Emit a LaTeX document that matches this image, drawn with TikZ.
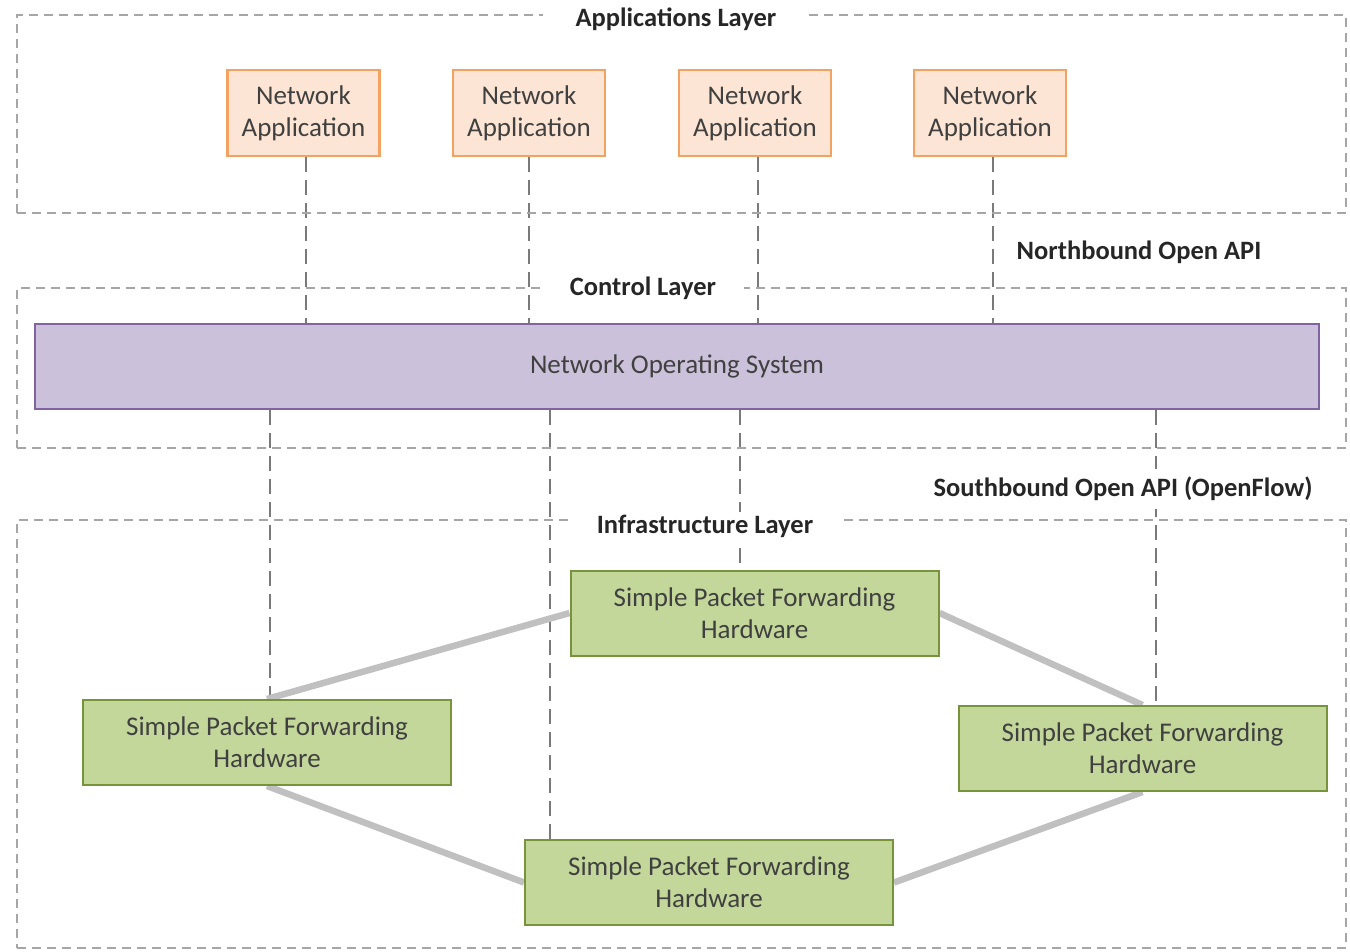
\documentclass[tikz,border=0pt]{standalone}
\usepackage{fontspec}
\setmainfont{Carlito}
\usetikzlibrary{backgrounds}
\definecolor{appfill}{HTML}{FCE5D4}
\definecolor{appdraw}{HTML}{F4A261}
\definecolor{nosfill}{HTML}{CCC1DA}
\definecolor{nosdraw}{HTML}{8064A2}
\definecolor{hwfill}{HTML}{C4D79B}
\definecolor{hwdraw}{HTML}{77933C}
\definecolor{linkgray}{HTML}{C0C0C0}
\definecolor{layergray}{HTML}{A6A6A6}
\definecolor{ctlgray}{HTML}{7A7A7A}
\definecolor{txt}{HTML}{404040}
\definecolor{ttl}{HTML}{262626}
\begin{document}
\begin{tikzpicture}[x=1pt,y=-1pt,
  layerbox/.style={draw=layergray, line width=1.5pt, dash pattern=on 9pt off 6pt, inner sep=0pt, outer sep=0pt},
  ltitle/.style={fill=white, text=ttl, font=\bfseries\fontsize{26.5}{30}\selectfont, inner xsep=28pt, inner ysep=3pt},
  apilabel/.style={text=ttl, font=\bfseries\fontsize{26.5}{30}\selectfont},
  appbox/.style={draw=appdraw, fill=appfill, line width=2.5pt, minimum width=152pt, minimum height=86pt, align=center, text=txt, font=\fontsize{27}{32}\selectfont, inner sep=0pt},
  nosbox/.style={draw=nosdraw, fill=nosfill, line width=2pt, minimum width=1284pt, minimum height=85pt, text=txt, font=\fontsize{27}{32}\selectfont, inner sep=0pt},
  hwbox/.style={draw=hwdraw, fill=hwfill, line width=2pt, minimum width=368pt, minimum height=85pt, align=center, text=txt, font=\fontsize{27}{32}\selectfont, inner sep=0pt},
  ctl/.style={draw=ctlgray, line width=2pt, dash pattern=on 15pt off 8pt},
  link/.style={draw=linkgray, line width=6.5pt}
]
\useasboundingbox (0,0) rectangle (1350,951);

% layers
\node[layerbox, minimum width=1329pt, minimum height=198pt] (applayer) at (681.5,114) {};
\node[layerbox, minimum width=1329pt, minimum height=160pt] (ctllayer) at (681.5,368) {};
\node[layerbox, minimum width=1329pt, minimum height=428pt] (infralayer) at (681.5,734) {};

% application boxes
\node[appbox] (app1) at (303.5,113) {Network\\Application};
\node[appbox] (app2) at (529,113) {Network\\Application};
\node[appbox] (app3) at (755,113) {Network\\Application};
\node[appbox] (app4) at (990,113) {Network\\Application};

% NOS
\node[nosbox] (nos) at (677,366.5) {Network Operating System};

% hardware
\node[hwbox] (hwtop) at (754.5,613) {Simple Packet Forwarding\\Hardware};
\node[hwbox] (hwleft) at (267,742.5) {Simple Packet Forwarding\\Hardware};
\node[hwbox] (hwright) at (1142.5,748.5) {Simple Packet Forwarding\\Hardware};
\node[hwbox] (hwbot) at (709,882.5) {Simple Packet Forwarding\\Hardware};

\begin{pgfonlayer}{background}
% northbound connectors
\draw[ctl] ([xshift=2pt]app1.south) -- ([xshift=2pt]app1.south |- nos.north);
\draw[ctl] (app2.south) -- (app2.south |- nos.north);
\draw[ctl] ([xshift=3pt]app3.south) -- ([xshift=3pt]app3.south |- nos.north);
\draw[ctl] ([xshift=3pt]app4.south) -- ([xshift=3pt]app4.south |- nos.north);
% southbound connectors
\draw[ctl] ([xshift=3pt]hwleft.north |- nos.south) -- ([xshift=3pt]hwleft.north);
\draw[ctl] ([xshift=-159pt]hwbot.north |- nos.south) -- ([xshift=-159pt]hwbot.north);
\draw[ctl] ([xshift=-14.5pt]hwtop.north |- nos.south) -- ([xshift=-14.5pt]hwtop.north);
\draw[ctl] ([xshift=13.5pt]hwright.north |- nos.south) -- ([xshift=13.5pt]hwright.north);
% physical links
\draw[link] (hwtop.west) -- (hwleft.north);
\draw[link] (hwtop.east) -- (hwright.north);
\draw[link] (hwleft.south) -- (hwbot.west);
\draw[link] (hwright.south) -- (hwbot.east);
\end{pgfonlayer}

% layer titles
\node[ltitle, inner xsep=33pt] (apptitle) at (676,19) {Applications Layer};
\node[ltitle, inner xsep=28pt] (ctltitle) at (643,288) {Control Layer};
\node[ltitle, inner xsep=26pt] (infratitle) at (705,526) {Infrastructure Layer};

% API labels
\node[apilabel] (north) at (1139,252) {Northbound Open API};
\node[apilabel, fill=white, inner xsep=2pt, inner ysep=8pt] (south) at (1123,489) {Southbound Open API (OpenFlow)};
\end{tikzpicture}
\end{document}
